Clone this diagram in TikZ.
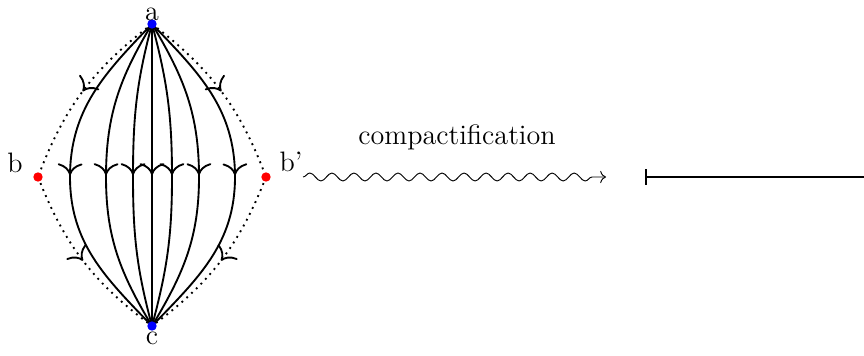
\documentclass[tikz,border=0pt]{standalone}
\usepackage{tikz}
\usetikzlibrary{arrows.meta,decorations.markings,decorations.pathmorphing}

\tikzset{
	midarrow/.style={postaction={decorate},
		decoration={markings, mark=at position #1 with {\arrow{To[scale=1.5]}}}},
	fibre/.style={thick, midarrow=0.5},
	rim/.style={thick, dotted, midarrow=0.5},
	pt/.style={circle, inner sep=0pt, minimum size=4pt, fill=#1},
	lab/.style={inner sep=0pt},
}

\begin{document}
\begin{tikzpicture}[x=0.015cm,y=0.015cm,font=\fontsize{12}{14}\selectfont]
		\useasboundingbox (0,0) rectangle (864,355);
		
		% vertices of the diamond
		\coordinate (a)  at (152,331);
		\coordinate (c)  at (152,29);
		\coordinate (b)  at (38,178);
		\coordinate (bp) at (266,178);
		
		% boundary: dotted, oriented from a to c
		\draw[rim] (a) to[bend right=16] (b);
		\draw[rim] (b) to[bend right=16] (c);
		\draw[rim] (a) to[bend left=16]  (bp);
		\draw[rim] (bp) to[bend left=16] (c);
		
		% the fibres from a to c
		\foreach \x/\o in {70/226, 106/239, 133/255, 172/285, 199/301, 235/314}
		\draw[fibre] (a) to[out=\o, in=90] (\x,178) to[out=-90, in=360-\o] (c);
		\draw[fibre] (a) -- (c);
		
		% endpoints
		\node[pt=blue] (na)  at (a)  {};
		\node[pt=blue] (nc)  at (c)  {};
		\node[pt=red]  (nb)  at (b)  {};
		\node[pt=red]  (nbp) at (bp) {};
		\node[lab] (la)  at (152,341) {a};
		\node[lab] (lc)  at (152,17)  {c};
		\node[lab] (lb)  at (15,192)  {b};
		\node[lab] (lbp) at (291,193) {b'};
		
		% compactification arrow
		\coordinate (w0) at (303,178);
		\coordinate (w1) at (606,178);
		\draw[-{To}, decorate,
		decoration={snake, amplitude=1.7pt, segment length=9.4pt, post length=3pt}]
		(w0) -- (w1);
		\node (lw) at (457,218) {compactification};
		
		% the segment
		\coordinate (s0) at (645,178);
		\coordinate (s1) at (864,178);
		\draw[thick, {Bar[width=6.5pt]}-] (s0) -- (s1);
	\end{tikzpicture}
\end{document}
